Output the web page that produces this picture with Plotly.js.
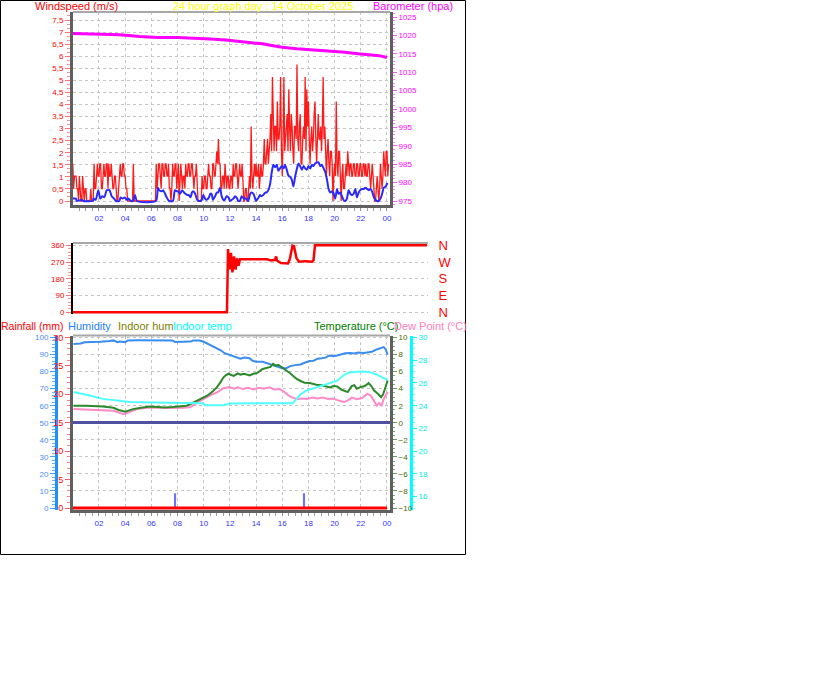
<!DOCTYPE html>
<html>
<head>
<meta charset="utf-8">
<script src="https://cdn.plot.ly/plotly-3.0.1.min.js"></script>
<style>
html,body{margin:0;padding:0;background:#fff;}
#chart{width:816px;height:683px;}
</style>
</head>
<body>
<div id="chart"></div>
<script>
// ---------------- DATA ----------------
const hourTickVals = [2,4,6,8,10,12,14,16,18,20,22,24];
const hourTickText = ['02','04','06','08','10','12','14','16','18','20','22','00'];

// wind gust (m/s), one reading every 3.75 minutes from 00:00
const gustStepHours = 0.0625;
const windGust = [
 1.54,0.51,1.03,1.03,1.03,0.51,0.51,0,1.03,0.51,0,0,1.03,0.51,0,0.51,
 0.51,0,0,0,0,0,0.51,0,0,0,1.54,0.51,0.51,1.03,1.54,1.03,
 1.03,1.54,1.54,0.51,0.51,1.03,1.54,1.03,1.03,1.54,1.54,0.51,1.54,1.03,1.03,1.54,
 1.03,0.51,0.51,1.03,1.03,0.51,0,0,0.51,1.03,1.54,1.03,1.03,1.54,1.54,1.03,
 1.03,0.51,0.51,0,0,0,0,0,0,0,1.54,0,0,0,0,0,
 0,0,0,0,0,0,0,0,0,0,0,0,0,0,0,0,
 0,0,0,0,0,0,1.54,0.51,1.03,1.54,1.54,1.03,0.51,1.54,1.54,1.03,
 1.03,1.54,1.54,1.03,1.03,1.54,0.51,0.51,0,0.51,1.54,1.03,1.03,1.54,1.54,0.51,
 1.03,1.54,0,1.03,1.54,1.03,0.51,1.03,1.03,0.51,1.54,1.03,1.03,1.54,1.54,1.03,
 1.03,1.54,1.54,1.03,0.51,1.03,1.03,1.54,0.51,0,0,0,0,0,1.03,0.51,
 0.51,1.03,1.03,0.51,0.51,1.03,1.54,1.03,1.03,0.51,0.51,1.54,1.54,1.03,1.03,1.54,
 2.06,1.54,2.57,1.54,1.54,0.51,0.51,1.03,1.03,0.51,1.54,1.03,0.51,1.03,1.03,0.51,
 0.51,1.03,1.03,0.51,1.54,1.03,1.03,1.54,1.54,1.03,0.51,1.03,1.54,1.03,1.03,1.54,
 0.51,0,0,0.51,0.51,0,0,0.51,1.03,0.51,3.09,1.03,0.51,1.03,1.54,1.03,
 1.54,1.03,1.03,1.54,0.51,1.03,1.54,1.03,1.03,1.54,2.57,1.54,1.54,2.06,2.57,1.54,
 2.06,2.57,3.6,2.06,5.14,2.57,2.06,3.09,3.09,2.06,4.12,2.57,2.57,3.09,5.14,2.06,
 1.03,2.57,5.14,2.06,2.57,3.09,3.6,2.06,4.63,3.09,2.06,3.6,3.09,2.06,1.54,3.09,
 3.09,2.57,5.66,2.57,2.06,3.09,3.6,1.54,1.54,2.57,3.09,2.57,5.14,2.06,4.63,3.09,
 4.12,2.57,1.54,2.57,3.09,2.06,2.57,3.6,4.12,2.57,1.54,2.57,3.6,2.57,2.57,3.09,
 2.06,3.09,5.14,2.57,3.09,2.06,1.03,2.06,2.57,1.54,1.03,2.06,2.06,1.54,0,1.03,
 1.54,1.03,4.12,1.54,1.03,2.06,2.06,1.03,0,1.03,1.54,0.51,0.51,1.03,1.54,1.03,
 2.06,1.54,1.03,1.54,1.54,1.03,1.03,1.54,1.54,1.03,1.03,1.54,1.54,1.03,1.03,1.54,
 1.54,1.03,1.03,1.54,1.54,1.03,1.54,1.03,1.03,1.54,1.54,1.03,0.51,1.03,1.54,1.03,
 0.51,0,0,0.51,1.03,0.51,0,0.51,1.54,1.03,0.51,1.03,2.06,1.54,1.03,2.06,
 2.06,1.03,1.54
];

// average wind speed (m/s)
const avgHours = [0,0.25,0.3,0.68,0.8,1.5,1.6,1.75,1.95,2.1,2.25,2.4,2.6,2.8,2.97,3.15,3.3,3.55,3.65,3.8,3.97,4.12,4.25,4.45,4.6,4.75,4.9,6.35,6.5,6.6,6.8,6.9,7.05,7.17,7.35,7.65,7.8,7.95,8.05,8.2,8.35,8.5,8.6,8.75,8.85,9.0,9.1,9.2,9.35,9.5,9.7,9.85,9.97,10.1,10.23,10.4,10.5,10.6,10.7,10.87,11.0,11.1,11.25,11.37,11.5,11.6,11.75,11.9,12.0,12.15,12.27,12.4,12.5,12.65,12.77,12.9,13.05,13.25,13.4,13.55,13.65,13.8,13.9,14.0,14.2,14.3,14.4,14.55,14.7,14.8,14.94,15.07,15.2,15.32,15.45,15.58,15.7,15.83,15.96,16.1,16.21,16.34,16.47,16.6,16.72,16.85,16.98,17.1,17.24,17.36,17.5,17.63,17.75,17.88,18.0,18.14,18.26,18.39,18.5,18.65,18.77,18.9,19.03,19.16,19.28,19.41,19.54,19.66,19.8,19.92,20.05,20.18,20.3,20.43,20.56,20.68,20.82,20.94,21.07,21.2,21.33,21.45,21.58,21.7,21.84,21.96,22.1,22.22,22.35,22.48,22.6,22.73,22.86,23.0,23.12,23.24,23.37,23.5,23.63,23.75,23.9,24.03];
const avgSpeed = [0.1,0.1,0,0.05,0,0,0.1,0.05,0.45,0.1,0.2,0.15,0.45,0.45,0.2,0.1,0,0,0.15,0.1,0.15,0.05,0.1,0,0,0.25,0,0,0.55,0.45,0.4,0.45,0.3,0.15,0,0,0.45,0.4,0.4,0.3,0.45,0.35,0.3,0.25,0.25,0.15,0.35,0.4,0.3,0.05,0,0.05,0.25,0.1,0.05,0.15,0.3,0.3,0.05,0.2,0.35,0.35,0.55,0.2,0.05,0.05,0.2,0.15,0,0.05,0.1,0.2,0.15,0,0,0.2,0.1,0.1,0,0.3,0.35,0.3,0.15,0,0.15,0.25,0.2,0.25,0.35,0.35,0.45,0.7,1.2,1.5,1.4,1.5,1.25,1.35,1.45,1.35,1.5,1.3,1.05,1.0,0.9,0.6,1.0,1.3,1.55,1.45,1.3,1.45,1.35,1.3,1.45,1.35,1.5,1.45,1.55,1.6,1.6,1.45,1.5,1.35,1.2,0.9,0.5,0.35,0.4,0.3,0.1,0.5,0.3,0.35,0.2,0.05,0,0.1,0.45,0.3,0.25,0.3,0.5,0.15,0.35,0.45,0.5,0.5,0.55,0.5,0.45,0.5,0.4,0.15,0.05,0,0,0.1,0.3,0.55,0.6,0.75];

// barometer (hPa)
const baroHours = [0,2.0,3.6,5.1,6.5,8.0,9.7,10.5,11.7,12.8,13.6,14.5,15.3,16.0,17.1,18.5,19.9,20.8,21.8,22.9,23.4,24.0];
const baroHpa = [1020.5,1020.4,1020.2,1019.7,1019.4,1019.4,1019.2,1019.0,1018.75,1018.4,1018.0,1017.7,1017.2,1016.8,1016.4,1016.0,1015.8,1015.4,1015.0,1014.7,1014.5,1014.0];

// wind direction (degrees)
const dirHours = [0,10.41,10.48,10.58,10.68,10.78,10.89,10.99,11.09,11.19,11.29,13.12,13.39,13.66,13.73,13.79,14.06,14.54,14.67,14.84,14.94,15.11,15.28,15.69,16.16,16.26,16.36,23.93];
const dirDeg = [0,0,340,230,320,215,300,230,290,250,285,285,278,282,300,278,265,262,290,358,355,290,272,275,272,280,360,360];
const dirTickVals = [0,90,180,270,360];
const dirTickText = ['N','E','S','W','N'];

// humidity (%)
const humHours = [0.05,0.3,0.6,0.9,1.6,2.1,2.8,3.1,3.4,3.6,4.0,4.2,5.0,6.0,7.0,7.6,7.8,8.5,9.0,9.2,9.7,10.0,10.3,10.6,11.0,11.3,11.6,11.9,12.2,12.5,12.8,13.1,13.5,13.7,14.0,14.5,14.8,15.1,15.4,15.7,16.0,16.3,16.6,17.0,17.4,17.7,18.1,18.4,18.7,19.0,19.3,19.6,19.9,20.2,20.5,20.8,21.2,21.5,21.8,22.2,22.6,22.9,23.2,23.5,23.75,23.9,24.05];
const humidity = [96.2,96.2,96.5,97.2,97.3,97.5,98.0,98.3,97.3,97.6,97.3,98.3,98.4,98.4,98.4,98.3,97.4,97.4,97.6,98.2,98.2,97.5,96.3,95.3,93.8,92.5,90.8,90.0,88.8,88.3,87.6,88.3,87.8,86.5,85.8,85.8,85.0,84.4,83.2,82.4,82.0,81.9,83.2,83.8,84.2,85.2,86.2,86.4,87.6,87.8,88.2,89.4,89.0,89.4,90.2,90.8,90.9,90.6,91.2,90.9,91.4,91.8,93.0,93.6,94.4,93.0,89.9];

// outdoor temperature (°C)
const tempHours = [0.05,1.0,2.3,3.1,3.5,3.8,4.0,4.3,4.6,5.2,5.9,6.5,7.0,7.6,8.2,8.7,9.0,9.5,10.0,10.3,10.7,11.0,11.3,11.5,11.7,11.9,12.1,12.3,12.6,12.8,13.1,13.5,13.8,14.1,14.5,14.8,15.1,15.3,15.5,15.7,16.0,16.3,16.6,16.9,17.1,17.4,17.7,18.1,18.6,19.0,19.3,19.65,19.9,20.2,20.5,20.8,21.0,21.3,21.5,21.7,22.0,22.3,22.6,22.8,23.0,23.3,23.55,23.7,23.85,24.05];
const temperature = [2.0,2.0,1.9,1.75,1.5,1.35,1.3,1.45,1.6,1.75,1.9,1.85,1.8,1.85,1.9,2.0,2.2,2.6,3.0,3.2,3.7,4.15,4.8,5.3,5.6,5.75,5.6,5.5,5.8,5.65,5.75,5.55,5.75,5.85,6.3,6.4,6.55,6.9,6.7,6.8,6.5,6.2,5.8,5.4,5.15,4.9,4.7,4.65,4.45,4.4,4.3,4.15,4.3,4.25,3.9,3.7,3.6,4.3,4.4,4.0,4.2,4.3,4.65,4.3,3.8,3.4,3.0,3.3,4.0,4.95];

// dew point (°C)
const dewHours = [0.05,1.0,2.3,3.1,3.5,3.9,4.25,4.9,5.9,6.5,7.4,8.5,9.0,9.5,10.2,10.6,11.0,11.5,12.0,12.3,12.6,13.0,13.4,13.8,14.2,14.6,15.0,15.4,15.8,16.1,16.4,16.7,17.1,17.5,17.9,18.3,18.7,19.1,19.5,19.9,20.3,20.7,21.0,21.3,21.7,22.1,22.5,22.75,23.0,23.2,23.4,23.6,23.75,23.9,24.05];
const dewPoint = [1.6,1.55,1.5,1.4,1.2,1.0,1.2,1.6,1.8,1.75,1.73,1.75,1.85,2.35,3.0,3.3,3.55,4.05,4.2,4.0,4.15,3.95,4.1,3.9,4.1,4.0,4.15,3.9,3.95,3.7,3.3,3.0,2.8,2.85,2.8,2.95,2.85,2.95,2.8,2.85,2.6,2.45,2.6,2.95,2.75,2.9,3.4,3.2,2.6,2.0,2.3,2.05,2.8,3.3,3.6];

// indoor temperature (°C)
const inTempHours = [0.05,0.5,1.3,2.3,3.0,3.6,4.4,6.2,8.5,9.9,10.1,11.5,12.0,14.0,16.8,17.1,17.4,17.8,18.3,19.1,19.7,20.2,20.5,20.8,21.2,21.7,22.2,22.7,23.2,23.7,24.05];
const indoorTemp = [25.2,25.1,24.9,24.6,24.5,24.4,24.33,24.28,24.25,24.22,24.05,24.05,24.2,24.22,24.22,24.6,25.0,25.3,25.5,25.8,26.0,26.2,26.5,26.75,26.95,26.98,27.0,26.95,26.75,26.45,26.3];

// rainfall (mm), hourly
const rainHours = [0,1,2,3,4,5,6,7,8,9,10,11,12,13,14,15,16,17,18,19,20,21,22,23,24];
const rainfall = [0,0,0,0,0,0,0,0,0,0,0,0,0,0,0,0,0,0,0,0,0,0,0,0,0];

// blue event markers at the foot of the lower panel
const markerHours = [7.81,17.66];
const markerValues = [2.6,2.6];

// ---------------- LAYOUT HELPERS ----------------
const W = 816, H = 683;
const px = p => p / W;
const py = p => 1 - p / H;
const FONT = 'Liberation Sans, Arial, sans-serif';

const gustHours = windGust.map((_, i) => i * gustStepHours);

const traces = [
  // top panel
  {x: baroHours, y: baroHpa, xaxis:'x', yaxis:'y2', mode:'lines', line:{color:'#ff00ff', width:3}},
  {x: gustHours, y: windGust, xaxis:'x', yaxis:'y', mode:'lines', line:{color:'#ff1a1a', width:1.3}},
  {x: avgHours, y: avgSpeed, xaxis:'x', yaxis:'y', mode:'lines', line:{color:'#2a2aff', width:2, shape:'spline', smoothing:0.6}},
  // middle panel
  {x: dirHours, y: dirDeg, xaxis:'x3', yaxis:'y3', mode:'lines', line:{color:'#ff0000', width:2.5}},
  {x: dirHours, y: dirDeg, xaxis:'x3', yaxis:'y4', mode:'lines', opacity:0, line:{color:'rgba(0,0,0,0)', width:0}},
  // bottom panel
  {x: humHours, y: humidity, xaxis:'x5', yaxis:'y6', mode:'lines', line:{color:'#3a8cf0', width:2}},
  {x: inTempHours, y: indoorTemp, xaxis:'x5', yaxis:'y8', mode:'lines', line:{color:'#50ffff', width:2}},
  {x: dewHours, y: dewPoint, xaxis:'x5', yaxis:'y7', mode:'lines', line:{color:'#ff8ac8', width:2}},
  {x: tempHours, y: temperature, xaxis:'x5', yaxis:'y7', mode:'lines', line:{color:'#2a8a2a', width:2}},
  {x: rainHours, y: rainfall, xaxis:'x5', yaxis:'y5', mode:'lines', line:{color:'#ff0000', width:3}},
  {x: markerHours, y: markerValues, xaxis:'x5', yaxis:'y5', type:'bar', width:0.16, marker:{color:'#7070ff', line:{width:0}}}
];

const gridStyle = {showgrid:true, gridcolor:'#c4c4c4', griddash:'dot', gridwidth:1};

const xCommon = {
  tickmode:'array', tickvals: hourTickVals, ticktext: hourTickText,
  tickfont:{family:FONT, size:8, color:'#3535ff'},
  ticks:'outside', ticklen:3, tickcolor:'#909090', tickwidth:1,
  minor:{tickmode:'linear', tick0:0, dtick:0.5, ticks:'outside', ticklen:3, tickcolor:'#a0a0a0', showgrid:false},
  showline:true, linecolor:'#606060', linewidth:3, zeroline:false,
  ...gridStyle, fixedrange:true
};

const layout = {
  width: W, height: H,
  margin:{l:0, r:0, t:0, b:0},
  paper_bgcolor:'#ffffff', plot_bgcolor:'#ffffff',
  showlegend:false, hovermode:false,
  separators:', ',
  font:{family:FONT},
  barmode:'overlay',
  xaxis: Object.assign({}, xCommon, {domain:[px(73), px(390)], range:[0.015, 24.23], anchor:'y'}),
  yaxis: {
    domain:[py(205), py(12)], range:[-0.1658, 7.8315], anchor:'x',
    tickmode:'linear', tick0:0, dtick:0.5,
    tickfont:{family:FONT, size:8, color:'#ff0000'},
    ticks:'outside', ticklen:5, tickcolor:'#ff7070', tickwidth:1,
    minor:{tickmode:'linear', tick0:0, dtick:0.16667, ticks:'outside', ticklen:3, tickcolor:'#ff9090', showgrid:false},
    showline:true, linecolor:'#606060', linewidth:3, zeroline:false, ...gridStyle, fixedrange:true
  },
  yaxis2: {
    overlaying:'y', side:'right', anchor:'x', range:[973.913, 1026.359],
    tickmode:'linear', tick0:975, dtick:5,
    tickfont:{family:FONT, size:8, color:'#ff00ff'},
    ticks:'outside', ticklen:4, tickcolor:'#ff50ff',
    minor:{tickmode:'linear', tick0:975, dtick:1, ticks:'outside', ticklen:2, tickcolor:'#ff80ff', showgrid:false},
    showline:true, linecolor:'#606060', linewidth:3, showgrid:false, zeroline:false, fixedrange:true
  },
  xaxis3: {domain:[px(73), px(428)], range:[0, 24], anchor:'y3', showgrid:false, zeroline:false, showline:false, showticklabels:false, ticks:'', fixedrange:true},
  yaxis3: {
    domain:[py(314), py(243)], range:[-9.1, 372.4], anchor:'x3',
    tickmode:'linear', tick0:0, dtick:90,
    tickfont:{family:FONT, size:8, color:'#ff0000'},
    ticks:'outside', ticklen:5, tickcolor:'#ff7070',
    minor:{tickmode:'linear', tick0:0, dtick:18, ticks:'outside', ticklen:3, tickcolor:'#ff9090', showgrid:false},
    showline:true, linecolor:'#000000', linewidth:2, zeroline:false, ...gridStyle, fixedrange:true
  },
  yaxis4: {
    overlaying:'y3', side:'right', anchor:'x3', range:[-9.1, 372.4],
    tickmode:'array', tickvals: dirTickVals, ticktext: dirTickText,
    tickfont:{family:FONT, size:13, color:'#ff0000'},
    ticks:'outside', ticklen:7, tickcolor:'rgba(0,0,0,0)',
    showline:false, showgrid:false, zeroline:false, fixedrange:true
  },
  xaxis5: Object.assign({}, xCommon, {domain:[px(73), px(390)], range:[0.015, 24.23], anchor:'y5'}),
  yaxis5: {
    domain:[py(510), py(335.5)], range:[-0.352, 30.352], anchor:'x5', side:'left',
    tickmode:'linear', tick0:0, dtick:5,
    tickfont:{family:FONT, size:9, color:'#ff0000'},
    ticks:'outside', ticklen:5, tickcolor:'#ff6060',
    minor:{tickmode:'linear', tick0:0, dtick:1, ticks:'outside', ticklen:3, tickcolor:'#ff8080', showgrid:false},
    showline:true, linecolor:'#606060', linewidth:3, showgrid:false, zeroline:false, fixedrange:true
  },
  yaxis6: {
    overlaying:'y5', anchor:'free', position:px(56), side:'left', range:[-1.173, 101.173],
    tickmode:'linear', tick0:0, dtick:10,
    tickfont:{family:FONT, size:8, color:'#4a8cff'},
    ticks:'outside', ticklen:5, tickcolor:'#4a9cff',
    minor:{tickmode:'linear', tick0:0, dtick:2, ticks:'outside', ticklen:3, tickcolor:'#6ab0ff', showgrid:false},
    showline:true, linecolor:'#1e90ff', linewidth:3, showgrid:false, zeroline:false, fixedrange:true
  },
  yaxis7: {
    overlaying:'y5', anchor:'x5', side:'right', range:[-10.235, 10.235],
    tickmode:'linear', tick0:0, dtick:2,
    tickfont:{family:FONT, size:8, color:'#4a6a00'},
    ticks:'outside', ticklen:4, tickcolor:'#60a060',
    minor:{tickmode:'linear', tick0:0, dtick:0.5, ticks:'outside', ticklen:2, tickcolor:'#70b070', showgrid:false},
    showline:true, linecolor:'#606060', linewidth:3, ...gridStyle,
    zeroline:true, zerolinecolor:'#5050a0', zerolinewidth:3, fixedrange:true
  },
  yaxis8: {
    overlaying:'y5', anchor:'free', position:px(411), side:'right', range:[14.824, 30.176],
    tickmode:'linear', tick0:0, dtick:2,
    tickfont:{family:FONT, size:8, color:'#00e8e8'},
    ticks:'outside', ticklen:4, tickcolor:'#00ffff',
    minor:{tickmode:'linear', tick0:0, dtick:0.5, ticks:'outside', ticklen:2, tickcolor:'#60ffff', showgrid:false},
    showline:true, linecolor:'#00ffff', linewidth:3, showgrid:false, zeroline:false, fixedrange:true
  },
  shapes: [
    {type:'rect', xref:'paper', yref:'paper', x0:px(0.5), x1:px(465.5), y0:py(554.5), y1:py(0.5), line:{color:'#000000', width:1}},
    {type:'line', xref:'x domain', yref:'y domain', x0:0, x1:1, y0:1, y1:1, line:{color:'#a8a8a8', width:2}},
    {type:'line', xref:'x3 domain', yref:'y3 domain', x0:0, x1:1, y0:1, y1:1, line:{color:'#a8a8a8', width:2}},
    {type:'line', xref:'x5 domain', yref:'y5 domain', x0:0, x1:1, y0:1, y1:1, line:{color:'#a8a8a8', width:2}}
  ],
  annotations: [
    {text:'Windspeed (m/s)', x:px(33), y:py(6), xref:'paper', yref:'paper', xanchor:'left', yanchor:'middle', showarrow:false, font:{family:FONT, size:11, color:'#ff0000'}},
    {text:'24 hour graph day : 14 October 2025', x:px(171), y:py(6), xref:'paper', yref:'paper', xanchor:'left', yanchor:'middle', showarrow:false, font:{family:FONT, size:11, color:'#ffff00'}},
    {text:'Barometer (hpa)', x:px(371), y:py(6), xref:'paper', yref:'paper', xanchor:'left', yanchor:'middle', showarrow:false, font:{family:FONT, size:11, color:'#ff00ff'}},
    {text:'Rainfall (mm)', x:px(-1), y:py(326), xref:'paper', yref:'paper', xanchor:'left', yanchor:'middle', showarrow:false, font:{family:FONT, size:10.5, color:'#ff0000'}},
    {text:'Humidity', x:px(66), y:py(326), xref:'paper', yref:'paper', xanchor:'left', yanchor:'middle', showarrow:false, font:{family:FONT, size:11, color:'#1e7fff'}},
    {text:'Indoor hum', x:px(116), y:py(326), xref:'paper', yref:'paper', xanchor:'left', yanchor:'middle', showarrow:false, font:{family:FONT, size:11, color:'#808000'}},
    {text:'Indoor temp', x:px(171), y:py(326), xref:'paper', yref:'paper', xanchor:'left', yanchor:'middle', showarrow:false, font:{family:FONT, size:11, color:'#00ffff'}},
    {text:'Temperature (°C)', x:px(312), y:py(326), xref:'paper', yref:'paper', xanchor:'left', yanchor:'middle', showarrow:false, font:{family:FONT, size:11, color:'#008000'}},
    {text:'Dew Point (°C)', x:px(392), y:py(326), xref:'paper', yref:'paper', xanchor:'left', yanchor:'middle', showarrow:false, font:{family:FONT, size:11, color:'#ff80c0'}}
  ]
};

Plotly.newPlot('chart', traces, layout, {displayModeBar:false, staticPlot:true});
</script>
</body>
</html>
